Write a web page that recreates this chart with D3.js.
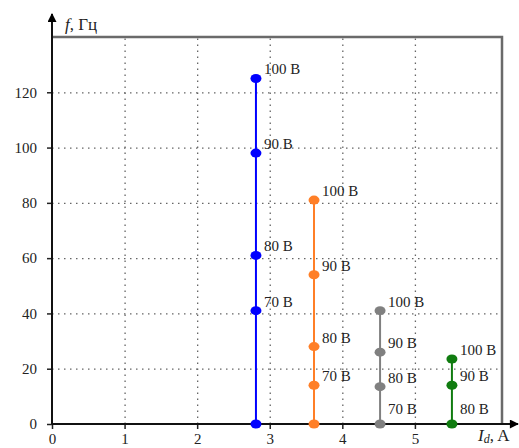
<!DOCTYPE html>
<html>
<head>
<meta charset="utf-8">
<script src="https://cdn.jsdelivr.net/npm/d3@7"></script>
<style>
  body { margin: 0; background: #fff; }
  svg text { font-family: "Liberation Serif", "DejaVu Serif", serif; }
</style>
</head>
<body>
<div id="chart"></div>
<script>
// current I_d (A) for each voltage series
const seriesX = [2.81, 3.61, 4.52, 5.51];
const seriesColors = ["#0000ff", "#ff7f27", "#808080", "#107c10"];
// frequency values per series (Hz)
const blueF = [0, 41, 61, 98, 125];
const orangeF = [0, 14, 28, 54, 81];
const grayF = [0, 13.5, 26, 41];
const greenF = [0, 14, 23.5];
// voltage labels per point ("" = no label)
const blueLabels = ["", "70 В", "80 В", "90 В", "100 В"];
const orangeLabels = ["", "70 В", "80 В", "90 В", "100 В"];
const grayLabels = ["70 В", "80 В", "90 В", "100 В"];
const greenLabels = ["80 В", "90 В", "100 В"];
const xTicks = [0, 1, 2, 3, 4, 5];
const yTicks = [0, 20, 40, 60, 80, 100, 120];

const width = 519, height = 448;
const svg = d3.select("#chart").append("svg")
  .attr("width", width).attr("height", height);

const x = d3.scaleLinear().domain([0, 6.2]).range([52, 502]);
const y = d3.scaleLinear().domain([0, 140]).range([424, 37]);

// gridlines
svg.append("g")
  .attr("transform", "translate(0," + y(0) + ")")
  .call(d3.axisBottom(x).tickValues([1, 2, 3, 4, 5]).tickSize(-(y(0) - y(140))).tickFormat(() => ""))
  .call(g => g.select(".domain").remove())
  .selectAll("line").attr("stroke", "#666").attr("stroke-dasharray", "1.5,4.5").attr("stroke-width", 1.3);
svg.append("g")
  .attr("transform", "translate(" + x(0) + ",0)")
  .call(d3.axisLeft(y).tickValues([20, 40, 60, 80, 100, 120]).tickSize(-(x(6.2) - x(0))).tickFormat(() => ""))
  .call(g => g.select(".domain").remove())
  .selectAll("line").attr("stroke", "#666").attr("stroke-dasharray", "1.5,4.5").attr("stroke-width", 1.3);

// frame (top and right)
svg.append("path")
  .attr("d", `M${x(0)},${y(140)}H${x(6.2)}V${y(0)}`)
  .attr("fill", "none").attr("stroke", "#6a6a6a").attr("stroke-width", 2.5);

// axes with ticks
const xAxis = svg.append("g")
  .attr("transform", "translate(0," + y(0) + ")")
  .call(d3.axisBottom(x).tickValues(xTicks).tickSize(5).tickPadding(4).tickFormat(d3.format("d")));
xAxis.select(".domain").remove();
xAxis.selectAll("line").attr("stroke", "#222").attr("stroke-width", 1.5);
xAxis.selectAll("text").attr("font-size", 15).attr("fill", "#222")
  .attr("font-family", "Liberation Serif, serif");

const yAxis = svg.append("g")
  .attr("transform", "translate(" + x(0) + ",0)")
  .call(d3.axisLeft(y).tickValues(yTicks).tickSize(5).tickPadding(10).tickFormat(d3.format("d")));
yAxis.select(".domain").remove();
yAxis.selectAll("line").attr("stroke", "#222").attr("stroke-width", 1.5);
yAxis.selectAll("text").attr("font-size", 15).attr("fill", "#222")
  .attr("font-family", "Liberation Serif, serif");

// axis lines with arrows
svg.append("defs").append("marker")
  .attr("id", "arrow").attr("viewBox", "0 0 10 10")
  .attr("refX", 9).attr("refY", 5)
  .attr("markerWidth", 11).attr("markerHeight", 9)
  .attr("markerUnits", "userSpaceOnUse")
  .attr("orient", "auto")
  .append("path").attr("d", "M0,0L10,5L0,10Z").attr("fill", "#000");

svg.append("line")
  .attr("x1", x(0)).attr("y1", y(0)).attr("x2", 518).attr("y2", y(0))
  .attr("stroke", "#111").attr("stroke-width", 2).attr("marker-end", "url(#arrow)");
svg.append("line")
  .attr("x1", x(0)).attr("y1", y(0)).attr("x2", x(0)).attr("y2", 14)
  .attr("stroke", "#111").attr("stroke-width", 2).attr("marker-end", "url(#arrow)");

// axis titles
const yt = svg.append("text").attr("x", 65).attr("y", 30).attr("font-size", 17).attr("fill", "#222");
yt.append("tspan").attr("font-style", "italic").text("f");
yt.append("tspan").text(", Гц");

const xt = svg.append("text").attr("x", 478).attr("y", 441).attr("font-size", 17).attr("fill", "#222");
xt.append("tspan").attr("font-style", "italic").text("I");
xt.append("tspan").attr("font-size", 12).attr("dy", 2).attr("font-style", "italic").text("d");
xt.append("tspan").attr("dy", -2).text(", A");

// series
const series = [
  { f: blueF, labels: blueLabels },
  { f: orangeF, labels: orangeLabels },
  { f: grayF, labels: grayLabels },
  { f: greenF, labels: greenLabels }
];

series.forEach((s, i) => {
  const cx = x(seriesX[i]);
  const color = seriesColors[i];
  const g = svg.append("g");
  g.append("line")
    .attr("x1", cx).attr("x2", cx)
    .attr("y1", y(d3.min(s.f))).attr("y2", y(d3.max(s.f)))
    .attr("stroke", color).attr("stroke-width", 2);
  g.selectAll("ellipse")
    .data(s.f)
    .enter()
    .append("ellipse")
      .attr("cx", cx)
      .attr("cy", d => y(d))
      .attr("rx", 5.5).attr("ry", 4.5)
      .attr("fill", color);
  g.selectAll("text")
    .data(s.f.map((d, j) => ({ v: d, t: s.labels[j] })).filter(d => d.t !== ""))
    .enter()
    .append("text")
      .attr("x", cx + 8)
      .attr("y", d => y(d.v) - (d.v === 0 ? 10 : 4))
      .attr("font-size", 15)
      .attr("fill", "#222")
      .text(d => d.t);
});
</script>
</body>
</html>
